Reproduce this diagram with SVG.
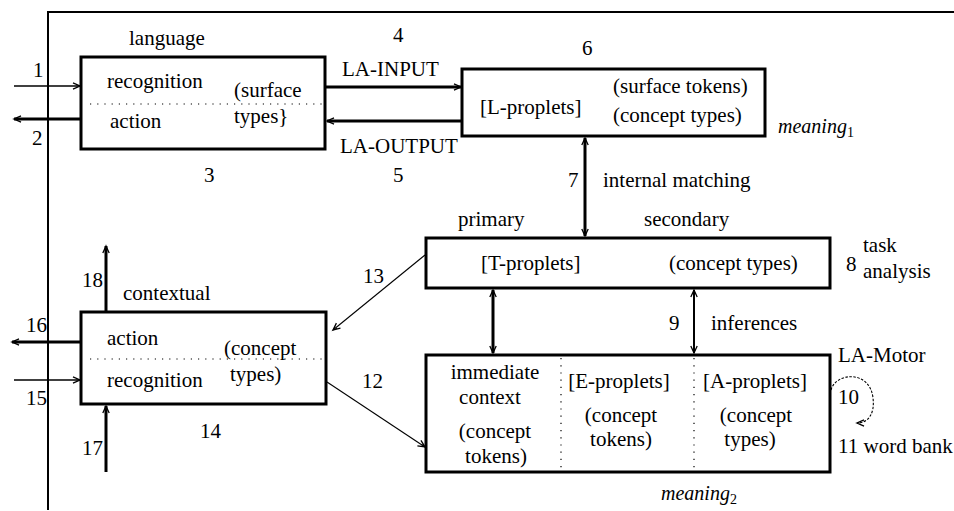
<svg xmlns="http://www.w3.org/2000/svg" width="954" height="511" viewBox="0 0 954 511">
<defs>
<marker id="ah" markerUnits="userSpaceOnUse" markerWidth="14" markerHeight="10" viewBox="-8 -5 10 10" refX="0" refY="0" orient="auto-start-reverse" overflow="visible">
<path d="M-7,-3.2 L0,0 L-7,3.2 M-4,-1.5 L0,0 L-4,1.5" fill="none" stroke="#000" stroke-width="1.3"/>
</marker>
</defs>
<style>
text{font-family:"Liberation Serif","Times New Roman",serif;font-size:21px;fill:#000}
.it{font-style:italic;font-size:20px}
.sub{font-style:normal;font-size:14px}
.box{fill:#fff;stroke:#000;stroke-width:3}
.dot{stroke:#000;stroke-width:1.2;stroke-dasharray:1.2 6;fill:none}
.thick{stroke:#000;stroke-width:3;fill:none}
.med{stroke:#000;stroke-width:2;fill:none}
.thin{stroke:#000;stroke-width:1.5;fill:none}
.hair{stroke:#000;stroke-width:1.1;fill:none}
.c{text-anchor:middle}
</style>
<rect width="954" height="511" fill="#fff"/>
<g id="frame">
<path d="M48,510 V12 H954" stroke="#000" stroke-width="2" fill="none"/>
</g>
<g id="connectors">
<line class="thin" x1="14" y1="86" x2="80" y2="86" marker-end="url(#ah)"/>
<line class="thick" x1="81" y1="119" x2="14" y2="119" marker-end="url(#ah)"/>
<line class="thick" x1="325" y1="87" x2="461" y2="87" marker-end="url(#ah)"/>
<line class="thick" x1="462" y1="121" x2="327" y2="121" marker-end="url(#ah)"/>
<line class="thick" x1="585" y1="138" x2="585" y2="236" marker-start="url(#ah)" marker-end="url(#ah)"/>
<line class="thick" x1="493" y1="290" x2="493" y2="353" marker-start="url(#ah)" marker-end="url(#ah)"/>
<line class="med" x1="694" y1="290" x2="694" y2="353" marker-start="url(#ah)" marker-end="url(#ah)"/>
<line class="hair" x1="425" y1="255" x2="333" y2="330" marker-end="url(#ah)"/>
<line class="hair" x1="327" y1="382" x2="425" y2="447" marker-end="url(#ah)"/>
<line class="thick" x1="81" y1="342" x2="12" y2="342" marker-end="url(#ah)"/>
<line class="thin" x1="14" y1="380" x2="80" y2="380" marker-end="url(#ah)"/>
<line class="thick" x1="106" y1="312" x2="106" y2="246" marker-end="url(#ah)"/>
<line class="thick" x1="106" y1="472" x2="106" y2="406" marker-end="url(#ah)"/>
<path class="hair" stroke-dasharray="2.5 1.5" d="M831,390 C836,372 870,370 873,398 C875,414 868,423 857,423" marker-end="url(#ah)"/>
</g>
<g id="language">
<rect class="box" x="81" y="57" width="244" height="92"/>
<line class="dot" x1="90" y1="104" x2="322" y2="104"/>
<text x="129" y="45">language</text>
<text x="107" y="88">recognition</text>
<text x="110" y="128">action</text>
<text x="234" y="97">(surface</text>
<text x="234" y="123">types}</text>
</g>
<g id="meaning1">
<rect class="box" x="462" y="69" width="303" height="67"/>
<text x="480" y="114">[L-proplets]</text>
<text x="613" y="93">(surface tokens)</text>
<text x="613" y="122">(concept types)</text>
<text class="it" x="778" y="133">meaning<tspan class="sub" dy="4">1</tspan></text>
</g>
<g id="task">
<rect class="box" x="426" y="238" width="404" height="50"/>
<text x="458" y="226">primary</text>
<text x="644" y="226">secondary</text>
<text x="481" y="270">[T-proplets]</text>
<text x="669" y="270">(concept types)</text>
<text x="846" y="271">8</text>
<text x="863" y="252">task</text>
<text x="863" y="278">analysis</text>
</g>
<g id="wordbank">
<rect class="box" x="426" y="355" width="404" height="117"/>
<line class="dot" x1="561" y1="358" x2="561" y2="470"/>
<line class="dot" x1="694" y1="358" x2="694" y2="470"/>
<text class="c" x="495" y="379">immediate</text>
<text class="c" x="490" y="404">context</text>
<text class="c" x="495" y="438">(concept</text>
<text class="c" x="496" y="463">tokens)</text>
<text class="c" x="619" y="388">[E-proplets]</text>
<text class="c" x="621" y="422">(concept</text>
<text class="c" x="621" y="446">tokens)</text>
<text class="c" x="755" y="388">[A-proplets]</text>
<text class="c" x="756" y="422">(concept</text>
<text class="c" x="750" y="446">types)</text>
<text x="838" y="362">LA-Motor</text>
<text x="838" y="404">10</text>
<text x="838" y="453">11 word bank</text>
<text class="it" x="661" y="500">meaning<tspan class="sub" dy="4">2</tspan></text>
</g>
<g id="contextual">
<rect class="box" x="81" y="312" width="245" height="92"/>
<line class="dot" x1="90" y1="359" x2="322" y2="359"/>
<text x="123" y="300">contextual</text>
<text x="107" y="345">action</text>
<text x="107" y="387">recognition</text>
<text x="224" y="355">(concept</text>
<text x="230" y="381">types)</text>
</g>
<g id="labels">
<text x="33" y="77">1</text>
<text x="32" y="145">2</text>
<text x="204" y="182">3</text>
<text x="393" y="42">4</text>
<text x="393" y="182">5</text>
<text x="582" y="55">6</text>
<text x="568" y="187">7</text>
<text x="603" y="187">internal matching</text>
<text x="342" y="76">LA-INPUT</text>
<text x="340" y="153">LA-OUTPUT</text>
<text x="669" y="330">9</text>
<text x="711" y="330">inferences</text>
<text x="362" y="388">12</text>
<text x="363" y="283">13</text>
<text x="200" y="438">14</text>
<text x="26" y="405">15</text>
<text x="26" y="332">16</text>
<text x="82" y="455">17</text>
<text x="82" y="287">18</text>
</g>
</svg>
